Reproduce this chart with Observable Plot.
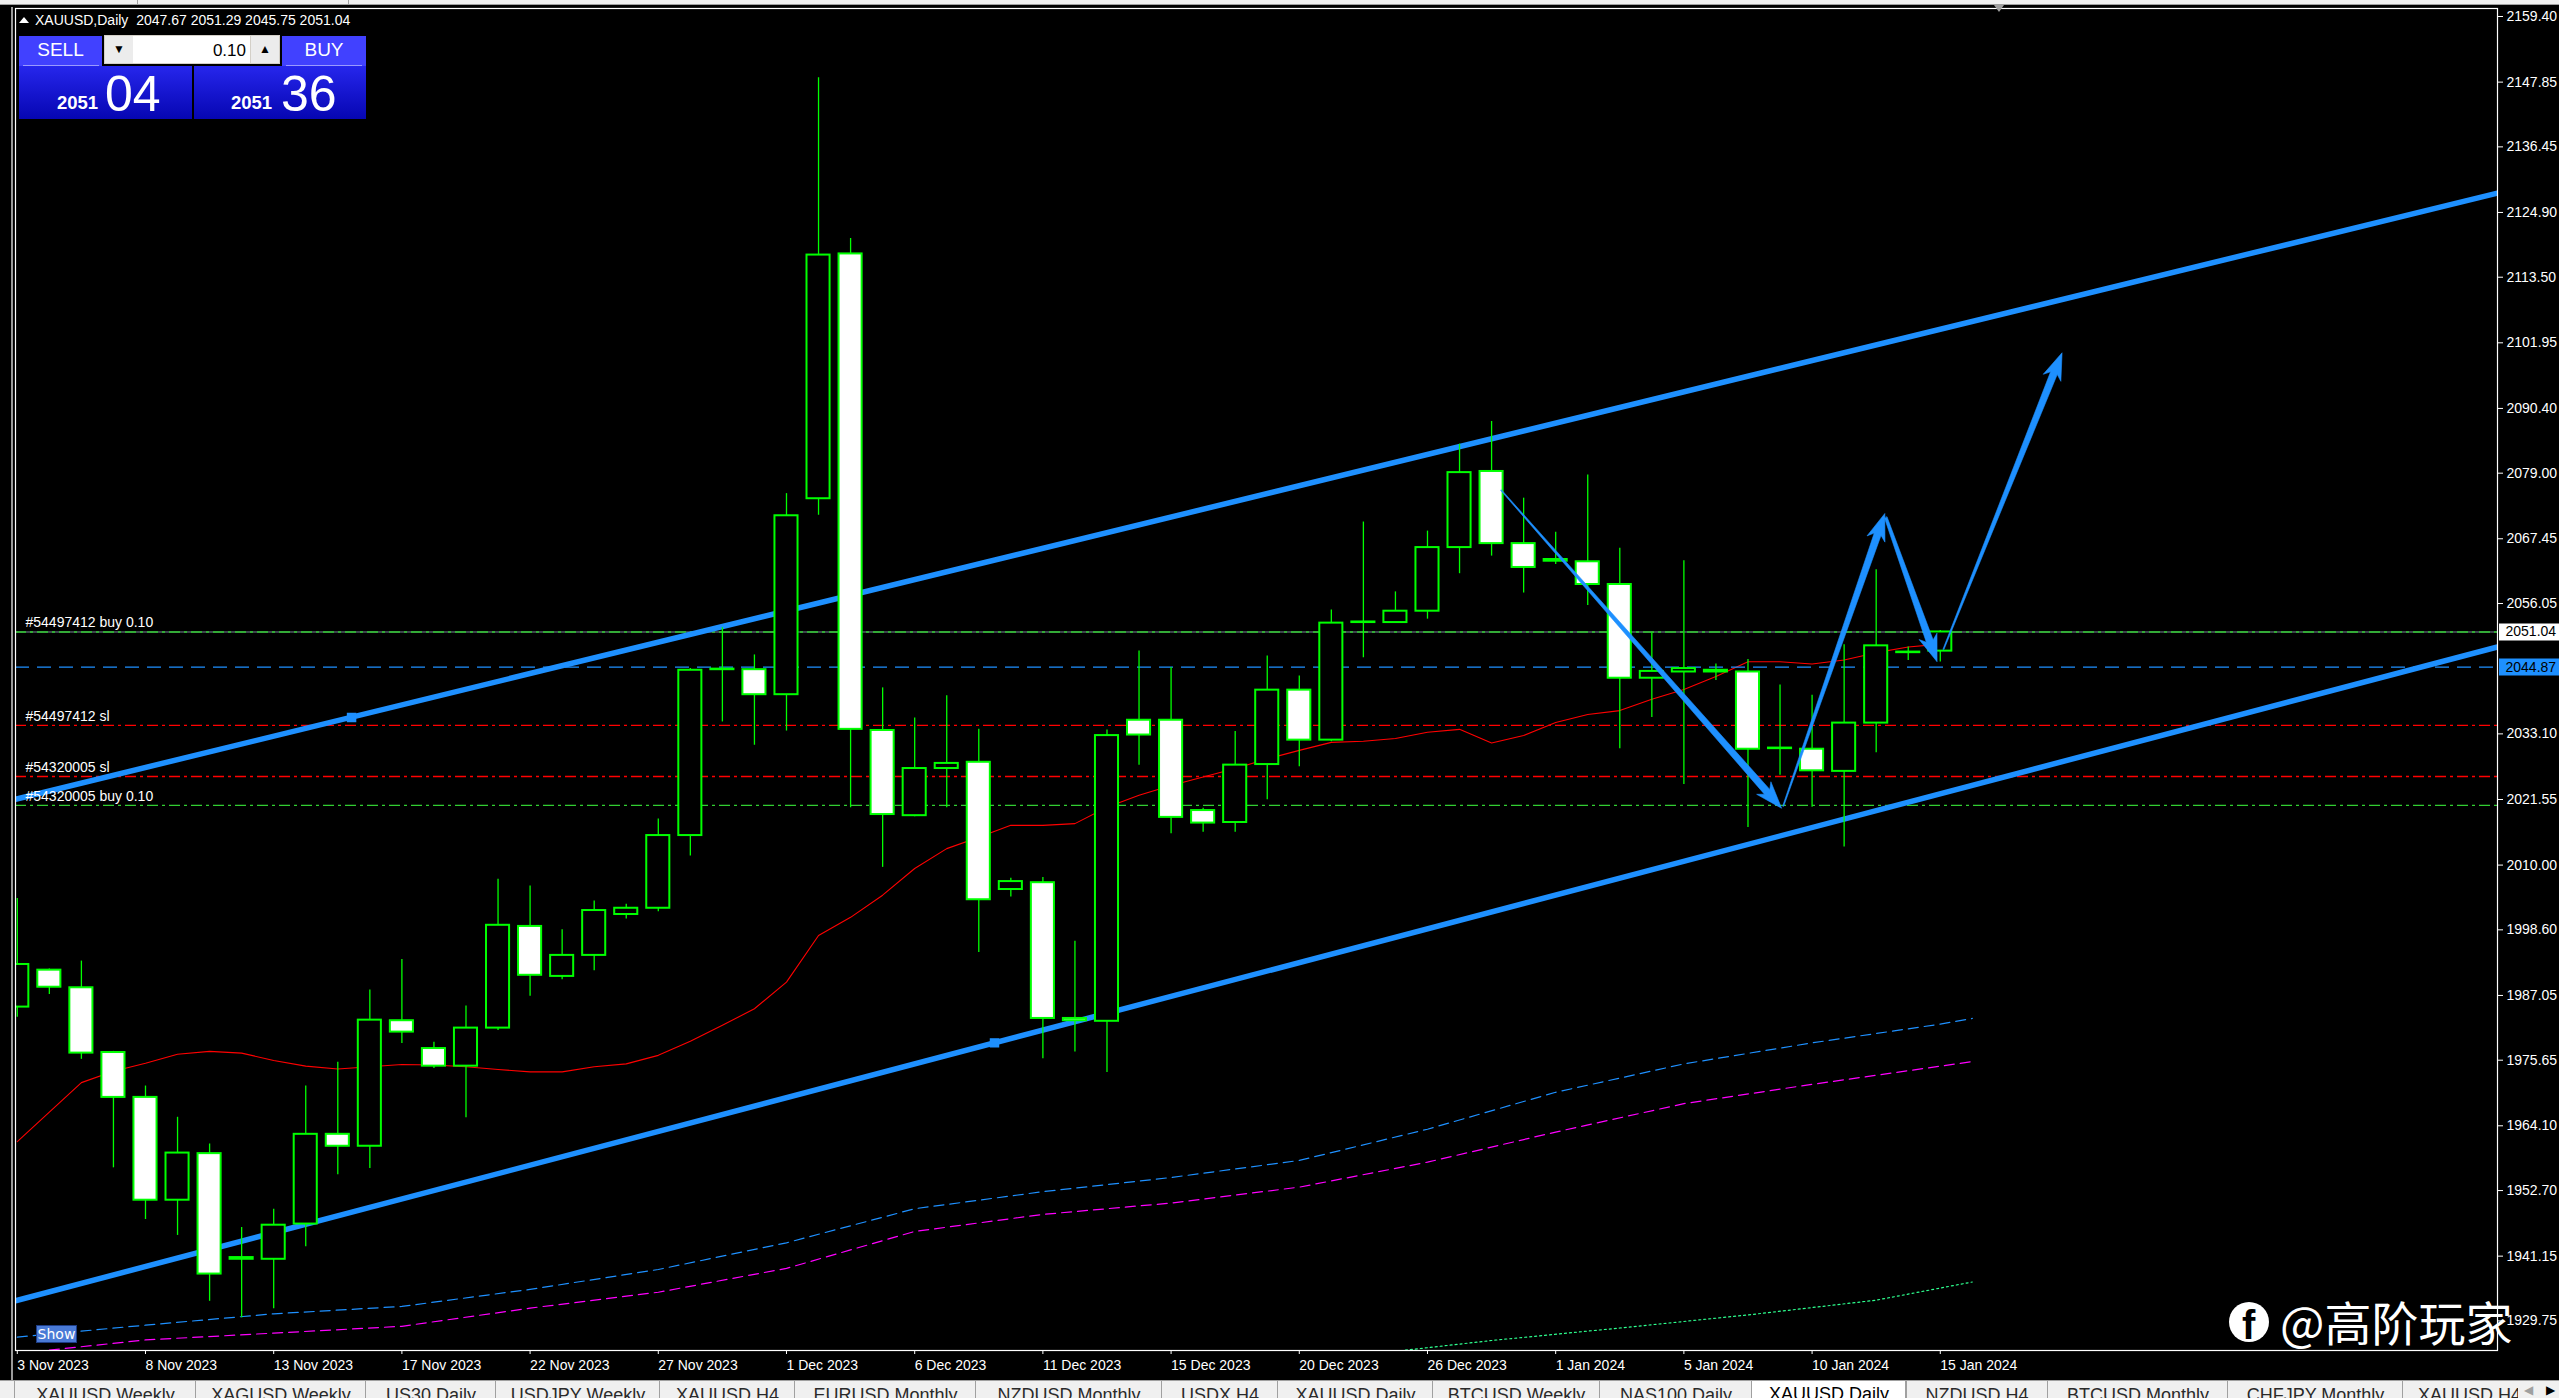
<!DOCTYPE html>
<html>
<head>
<meta charset="utf-8">
<script src="https://cdn.jsdelivr.net/npm/d3@7"></script>
<script src="https://cdn.jsdelivr.net/npm/@observablehq/plot@0.6"></script>
<style>
html,body{margin:0;padding:0;background:#000;width:2559px;height:1398px;overflow:hidden;font-family:"Liberation Sans",Arial,sans-serif;}
#chart{position:absolute;left:0;top:0;}
#chart svg{display:block;}
.abs{position:absolute;}
#topstrip{position:absolute;left:0;top:0;width:2559px;height:4px;background:#f0f0f0;border-bottom:1px solid #a0a0a0;}
#title{position:absolute;left:19px;top:12px;color:#fff;font-size:14px;line-height:16px;white-space:pre;}
#title .tri{display:inline-block;width:0;height:0;border-left:5.5px solid transparent;border-right:5.5px solid transparent;border-bottom:6px solid #fff;margin-right:6px;vertical-align:2px;}
.btop{position:absolute;top:36px;height:30px;background:#4141ff;color:#fff;font-size:19px;text-align:center;}
.btop span{position:absolute;left:0;right:0;top:4px;line-height:19px;}
.sep{position:absolute;top:65px;height:1px;background:#9a9aff;}
.bbot{position:absolute;top:66px;height:53px;background:linear-gradient(#2626ec,#0606b2);color:#fff;}
.bbot .small{position:absolute;top:28px;font-size:18.5px;line-height:18.5px;font-weight:bold;}
.bbot .big{position:absolute;top:3px;font-size:50px;line-height:50px;}
#lot{position:absolute;left:104px;top:35px;width:176px;height:29px;background:#d4d0c8;}
#lot .btn{position:absolute;top:1px;width:28px;height:27px;background:#ececec;color:#000;font-size:12px;text-align:center;line-height:27px;}
#lot .inp{position:absolute;left:29px;top:1px;width:117px;height:27px;background:#fff;color:#000;font-size:17px;text-align:right;line-height:17px;}
#lot .inp span{position:absolute;right:4px;top:6px;}
#show{position:absolute;left:36px;top:1325px;width:39px;height:16px;background:#4a7ad6;border:1px solid #1d3d86;color:#fff;font-family:"DejaVu Sans",sans-serif;font-size:14px;line-height:16px;text-align:center;}
#tabs{position:absolute;left:0;top:1380px;width:2559px;height:18px;background:#f0f0f0;border-top:1px solid #a0a0a0;overflow:hidden;}
.tab{position:absolute;top:0;height:30px;border-left:1px solid #a0a0a0;color:#2a2a2a;font-size:18px;line-height:20px;text-align:center;overflow:hidden;}
.tab span{position:absolute;left:0;right:0;top:4px;white-space:nowrap;}
.tab.last{text-align:left;}
.tab.last span{left:15px;right:auto;}
.tab.active{background:#fff;color:#000;border-right:1px solid #a0a0a0;top:-1px;}
#fb{position:absolute;left:2229px;top:1302px;width:40px;height:40px;border-radius:50%;background:#fff;overflow:hidden;}
#fb span{position:absolute;left:13px;top:3px;font-size:40px;line-height:40px;font-weight:bold;color:#000;font-family:"Liberation Sans",Arial,sans-serif;}
#wm{position:absolute;left:2280px;top:1293px;font-family:"Noto Sans CJK SC",sans-serif;font-size:47px;line-height:56px;color:#fff;white-space:nowrap;}
#shift{position:absolute;left:1994px;top:5px;width:0;height:0;border-left:5px solid transparent;border-right:5px solid transparent;border-top:7px solid #a0a0a0;}
</style>
</head>
<body>
<div id="chart"></div>
<div id="topstrip"><div class="abs" style="left:137px;top:0;width:1px;height:4px;background:#a0a0a0"></div><div class="abs" style="left:348px;top:0;width:1px;height:4px;background:#a0a0a0"></div></div>
<div class="abs" style="left:11px;top:7px;width:2px;height:1373px;background:#9a9a9a"></div>
<div id="shift"></div>
<div id="title"><span class="tri"></span>XAUUSD,Daily  2047.67 2051.29 2045.75 2051.04</div>

<div class="btop" style="left:19px;width:83px"><span>SELL</span></div>
<div class="bbot" style="left:19px;width:173px"><span class="small" style="left:38px">2051</span><span class="big" style="left:86px">04</span></div>
<div class="sep" style="left:23px;width:76px"></div>
<div id="lot"><div class="btn" style="left:1px">&#9660;</div><div class="inp"><span>0.10</span></div><div class="btn" style="left:147px">&#9650;</div></div>
<div class="btop" style="left:282px;width:84px"><span>BUY</span></div>
<div class="bbot" style="left:194px;width:172px"><span class="small" style="left:37px">2051</span><span class="big" style="left:87px">36</span></div>
<div class="sep" style="left:286px;width:76px"></div>

<div id="show">Show</div>
<div id="fb"><span>f</span></div>
<div id="wm">@高阶玩家</div>
<div id="tabs"></div>

<script>
// ---------------- DATA ----------------
const barDates = ["2023-11-03","2023-11-05","2023-11-06","2023-11-07","2023-11-08","2023-11-09","2023-11-10","2023-11-12","2023-11-13","2023-11-14","2023-11-15","2023-11-16","2023-11-17","2023-11-19","2023-11-20","2023-11-21","2023-11-22","2023-11-23","2023-11-24","2023-11-26","2023-11-27","2023-11-28","2023-11-29","2023-11-30","2023-12-01","2023-12-03","2023-12-04","2023-12-05","2023-12-06","2023-12-07","2023-12-08","2023-12-10","2023-12-11","2023-12-12","2023-12-13","2023-12-14","2023-12-15","2023-12-17","2023-12-18","2023-12-19","2023-12-20","2023-12-21","2023-12-22","2023-12-24","2023-12-26","2023-12-27","2023-12-28","2023-12-29","2024-01-01","2024-01-02","2024-01-03","2024-01-04","2024-01-05","2024-01-07","2024-01-08","2024-01-09","2024-01-10","2024-01-11","2024-01-12","2024-01-14","2024-01-15"];
const open  = [1985.0,1991.5,1988.4,1977.0,1969.1,1951.0,1959.2,1940.9,1940.6,1946.8,1962.6,1960.5,1982.6,1977.7,1974.6,1981.3,1999.2,1990.4,1994.1,2001.3,2002.4,2015.2,2044.4,2044.4,2040.0,2074.5,2117.6,2033.7,2018.7,2027.0,2028.1,2005.7,2006.9,1983.0,1982.5,2035.5,2035.5,2019.6,2017.5,2027.7,2040.8,2032.0,2052.7,2052.7,2054.7,2065.9,2079.3,2066.6,2063.8,2063.4,2059.4,2042.9,2044.0,2044.3,2044.0,2030.5,2030.4,2026.5,2035.0,2047.4,2047.67];
const high  = [2004.1,1991.7,1993.1,1977.2,1971.1,1965.6,1960.9,1946.2,1949.4,1971.1,1975.3,1988.0,1993.4,1978.8,1985.2,2007.5,2006.3,1998.6,2003.7,2003.1,2018.1,2044.6,2051.8,2047.0,2075.4,2148.6,2120.3,2041.2,2035.9,2039.8,2033.9,2007.7,2007.8,1996.6,2033.8,2047.7,2044.8,2020.0,2033.5,2046.8,2043.3,2054.9,2070.4,2058.1,2068.8,2084.1,2088.1,2074.6,2068.6,2078.7,2065.8,2050.9,2063.6,2045.4,2046.2,2041.7,2039.9,2048.8,2062.0,2048.4,2051.29];
const low   = [1983.2,1987.2,1975.8,1956.7,1947.6,1944.8,1933.2,1930.3,1931.9,1942.8,1955.5,1956.6,1978.6,1974.2,1965.5,1980.9,1986.9,1989.8,1991.4,2000.5,2001.8,2011.6,2035.2,2031.1,2033.6,2071.6,2020.1,2009.6,2018.5,2020.1,1994.6,2004.4,1975.9,1977.1,1973.5,2027.6,2015.5,2015.8,2015.8,2021.5,2027.3,2031.7,2046.5,2052.7,2053.3,2061.3,2064.4,2057.9,2062.9,2055.7,2030.5,2036.0,2024.2,2042.5,2016.6,2025.8,2020.2,2013.2,2029.8,2046.0,2045.75];
const close = [1992.5,1988.5,1976.9,1969.1,1951.0,1959.3,1938.0,1940.6,1946.6,1962.6,1960.5,1982.7,1980.6,1974.6,1981.3,1999.4,1990.6,1994.1,2002.0,2002.4,2015.2,2044.3,2044.5,2040.0,2071.5,2117.4,2033.9,2018.9,2027.0,2027.9,2003.9,2007.1,1983.0,1982.6,2032.8,2032.9,2018.4,2017.4,2027.6,2040.8,2032.0,2052.6,2052.8,2054.7,2065.9,2079.1,2066.6,2062.4,2063.5,2059.4,2042.9,2044.1,2044.6,2044.0,2030.4,2030.6,2026.6,2035.0,2048.6,2047.5,2051.04];

// moving averages (values read per bar / at sampled bars)
const maRed = [1961.3,1966.5,1971.7,1973.7,1975.1,1976.7,1977.2,1976.9,1975.6,1974.6,1974.1,1974.5,1974.9,1974.8,1974.5,1974.0,1973.6,1973.6,1974.5,1975.0,1976.5,1979.0,1981.8,1984.7,1989.4,1997.6,2000.8,2004.7,2009.4,2012.9,2014.9,2017.0,2017.0,2017.3,2020.2,2022.3,2024.0,2025.5,2027.0,2028.7,2030.2,2031.6,2031.8,2032.3,2033.4,2033.9,2031.5,2032.8,2035.1,2036.5,2037.2,2039.2,2040.9,2043.2,2045.8,2045.8,2045.4,2046.1,2047.4,2048.4,2048.9];
const maBlueIdx = [0,4,8,12,16,20,24,28,32,36,40,44,48,52,56,60,61];
const maBlueVal = [1926.9,1929.0,1931.0,1932.3,1935.3,1938.8,1943.5,1949.5,1952.5,1955.0,1958.0,1963.5,1970.0,1975.0,1978.7,1982.0,1983.0];
const maMagIdx  = [1,4,8,12,16,20,24,28,32,36,40,44,48,52,56,60,61];
const maMagVal  = [1924.6,1926.4,1927.6,1928.8,1932.0,1934.8,1939.0,1945.5,1948.5,1950.5,1953.3,1957.7,1963.0,1968.0,1971.4,1974.6,1975.4];
const maGreenIdx = [43,46,50,54,58,61];
const maGreenVal = [1924.4,1926.3,1928.5,1930.8,1933.4,1936.6];

// price axis tick labels
const yTicks = [1929.75,1941.15,1952.70,1964.10,1975.65,1987.05,1998.60,2010.00,2021.55,2033.10,2056.05,2067.45,2079.00,2090.40,2101.95,2113.50,2124.90,2136.45,2147.85,2159.40];

// trade / object levels
const bidPrice = 2051.04;
const hLinePrice = 2044.87;
const orderPrices = [2051.04, 2034.60, 2025.60, 2020.50];
const orderLabels = ["#54497412 buy 0.10", "#54497412 sl", "#54320005 sl", "#54320005 buy 0.10"];
const orderTypes  = ["buy", "sl", "sl", "buy"];

// channel trend lines (bar index, price) at their two ends
const channelNames = ["upper", "lower"];
const channelIdx0 = [-0.056, -0.056], channelP0 = [2021.6, 1933.3];
const channelIdx1 = [77.386, 77.386], channelP1 = [2128.3, 2048.4];
const channelMarkIdx = [10.43, 30.49], channelMarkP = [2036.0, 1978.7];

// drawn arrows: from (bar index, price) to (bar index, price)
const arrowFromIdx = [46.3, 55.1, 58.3, 60.1], arrowFromP = [2076.0, 2020.4, 2071.2, 2048.0];
const arrowToIdx   = [55.05, 58.27, 59.9, 63.8], arrowToP   = [2020.0, 2071.9, 2045.8, 2100.2];
const arrowStartW  = [0.5, 0.5, 1.4, 0.5];

// terminal tabs
const tabNames = ["XAUUSD Weekly","XAGUSD Weekly","US30 Daily","USDJPY Weekly","XAUUSD H4","EURUSD Monthly","NZDUSD Monthly","USDX H4","XAUUSD Daily","BTCUSD Weekly","NAS100 Daily","XAUUSD Daily","NZDUSD H4","BTCUSD Monthly","CHFJPY Monthly","XAUUSD H4"];
const activeTab = 11;

// ---------------- LAYOUT ----------------
const W = 2559, H = 1380, mL = 15, mR = 62, mT = 8, mB = 30;
const xDomain = [-0.056, 77.386];
const yDomain = [1924.54, 2160.81];
const xs = Plot.scale({x: {domain: xDomain, range: [mL, W - mR]}});
const ys = Plot.scale({y: {domain: yDomain, range: [H - mB, mT]}});

const parse = d3.utcParse("%Y-%m-%d");
const fmt = d3.utcFormat("%-d %b %Y");
const bars = barDates.map((d, i) => ({i, date: parse(d), o: open[i], h: high[i], l: low[i], c: close[i]}));
const tickIdx = bars.filter(b => b.i % 4 === 0).map(b => b.i);

const redData = maRed.map((v, i) => ({i, v}));
const blueData = maBlueIdx.map((i, k) => ({i, v: maBlueVal[k]}));
const magData = maMagIdx.map((i, k) => ({i, v: maMagVal[k]}));
const greenData = maGreenIdx.map((i, k) => ({i, v: maGreenVal[k]}));
const orders = orderPrices.map((p, k) => ({p, label: orderLabels[k], type: orderTypes[k]}));
const channel = channelNames.flatMap((k, j) => [{k, i: channelIdx0[j], p: channelP0[j]}, {k, i: channelIdx1[j], p: channelP1[j]}]);
const channelMarks = channelMarkIdx.map((i, k) => ({i, p: channelMarkP[k]}));

// tapered arrow outline, built in pixel space from the arrow's data ends and mapped back through the scales
function arrowOutline(k) {
  const sx = xs.apply(arrowFromIdx[k]), sy = ys.apply(arrowFromP[k]);
  const tx = xs.apply(arrowToIdx[k]), ty = ys.apply(arrowToP[k]);
  const dx = tx - sx, dy = ty - sy, L = Math.hypot(dx, dy);
  const ux = dx / L, uy = dy / L, nx = -uy, ny = ux;
  const HL = 22, HW = 9.5, w0 = arrowStartW[k], w1 = 3.6;
  const bx = tx - ux * HL, by = ty - uy * HL;
  const cx = tx - ux * (HL + 5), cy = ty - uy * (HL + 5);
  const pts = [
    [sx + nx * w0, sy + ny * w0],
    [bx + nx * w1, by + ny * w1],
    [cx + nx * HW, cy + ny * HW],
    [tx, ty],
    [cx - nx * HW, cy - ny * HW],
    [bx - nx * w1, by - ny * w1],
    [sx - nx * w0, sy - ny * w0]
  ];
  return pts.map(([px, py]) => ({k, x: xs.invert(px), y: ys.invert(py)}));
}
const arrowPts = arrowFromIdx.flatMap((_, k) => arrowOutline(k));

const bodyLo = d => Math.min(d.o, d.c), bodyHi = d => Math.max(d.o, d.c);
const hw = 0.36;
const hasAxisMarks = typeof Plot.axisX === "function";

const marks = [
  Plot.line(greenData, {x: "i", y: "v", stroke: "#2dff8e", strokeWidth: 1.2, strokeDasharray: "2,3", clip: true}),
  Plot.line(magData, {x: "i", y: "v", stroke: "#ff00ff", strokeWidth: 1.2, strokeDasharray: "10,6", clip: true}),
  Plot.line(blueData, {x: "i", y: "v", stroke: "#1e90ff", strokeWidth: 1.2, strokeDasharray: "10,6", clip: true}),
  Plot.line(redData, {x: "i", y: "v", stroke: "#ff0000", strokeWidth: 1.1, clip: true}),
  Plot.ruleY([bidPrice], {stroke: "#778899", strokeWidth: 1}),
  Plot.ruleY(orders.filter(d => d.type === "sl"), {y: "p", stroke: "#ff0000", strokeWidth: 1.3, strokeDasharray: "11,4,3,4"}),
  Plot.ruleY(orders.filter(d => d.type === "buy"), {y: "p", stroke: "#32cd32", strokeWidth: 1.3, strokeDasharray: "11,4,3,4"}),
  Plot.ruleY([hLinePrice], {stroke: "#1e90ff", strokeWidth: 1.2, strokeDasharray: "14,8"}),
  Plot.line(channel, {x: "i", y: "p", z: "k", stroke: "#1e90ff", strokeWidth: 5.5, strokeLinecap: "butt", clip: true}),
  Plot.dot(channelMarks, {x: "i", y: "p", symbol: "square", r: 4.5, fill: "#1e90ff", stroke: "#1e90ff"}),
  Plot.ruleX(bars, {x: "i", y1: "l", y2: "h", stroke: "#00ff00", strokeWidth: 1.3, clip: true}),
  Plot.rect(bars, {filter: d => d.c > d.o, x1: d => d.i - hw, x2: d => d.i + hw, y1: bodyLo, y2: bodyHi, fill: "#000", stroke: "#00ff00", strokeWidth: 2, clip: true}),
  Plot.rect(bars, {filter: d => d.c <= d.o, x1: d => d.i - hw, x2: d => d.i + hw, y1: bodyLo, y2: bodyHi, fill: "#fff", stroke: "#00ff00", strokeWidth: 2, clip: true}),
  Plot.line(arrowPts, {x: "x", y: "y", z: "k", fill: "#1e90ff", stroke: "#1e90ff", strokeWidth: 0.6, curve: "linear-closed", clip: true}),
  Plot.text(orders, {y: "p", text: "label", frameAnchor: "left", dx: 10, dy: -9, textAnchor: "start", fill: "white", fontSize: 14}),
  Plot.frame({stroke: "white", strokeWidth: 1.2})
];
if (hasAxisMarks) {
  marks.push(
    Plot.axisX({ticks: tickIdx, tickFormat: i => fmt(bars[i].date), anchor: "bottom", tickSize: 4, tickPadding: 6, textAnchor: "start", label: null, fontSize: 14}),
    Plot.axisY({ticks: yTicks, tickFormat: d => d.toFixed(2), anchor: "right", tickSize: 5, tickPadding: 4, textAnchor: "start", label: null, fontSize: 14})
  );
}
marks.push(
  Plot.ruleY([bidPrice], {stroke: "white", strokeWidth: 17, insetLeft: W - mR - mL + 2, insetRight: -mR}),
  Plot.text([bidPrice], {y: d => d, text: d => d.toFixed(2), frameAnchor: "right", dx: 8, textAnchor: "start", fill: "black", fontSize: 14}),
  Plot.ruleY([hLinePrice], {stroke: "#1e90ff", strokeWidth: 17, insetLeft: W - mR - mL + 2, insetRight: -mR}),
  Plot.text([hLinePrice], {y: d => d, text: d => d.toFixed(2), frameAnchor: "right", dx: 8, textAnchor: "start", fill: "black", fontSize: 14})
);

const xOpts = {domain: xDomain};
const yOpts = {domain: yDomain};
if (!hasAxisMarks) {
  Object.assign(xOpts, {ticks: tickIdx, tickFormat: i => fmt(bars[i].date), tickSize: 4, tickPadding: 6, label: null});
  Object.assign(yOpts, {axis: "right", ticks: yTicks, tickFormat: d => d.toFixed(2), tickSize: 5, tickPadding: 4, label: null});
} else {
  xOpts.axis = null; yOpts.axis = null;
}

const chart = Plot.plot({
  width: W, height: H,
  marginLeft: mL, marginRight: mR, marginTop: mT, marginBottom: mB,
  x: xOpts, y: yOpts,
  style: {background: "#000", color: "white", fontFamily: "'Liberation Sans', Arial, sans-serif", fontSize: "14px", overflow: "visible"},
  marks
});
document.getElementById("chart").appendChild(chart);

// tab bar
const tabLefts = [14,195,365,495,659,794,975,1161,1277,1432,1599,1751,1905,2047,2227,2402];
const tabsEl = document.getElementById("tabs");
tabNames.forEach((name, k) => {
  const left = tabLefts[k];
  const last = k + 1 >= tabLefts.length;
  const right = last ? 2518 : tabLefts[k + 1];
  const el = document.createElement("div");
  el.className = "tab" + (k === activeTab ? " active" : "") + (last ? " last" : "");
  el.style.left = left + "px";
  el.style.width = (right - left) + "px";
  const sp = document.createElement("span");
  sp.textContent = name;
  el.appendChild(sp);
  tabsEl.appendChild(el);
});
const scroll = document.createElement("div");
scroll.style.cssText = "position:absolute;left:2518px;top:0;width:41px;height:18px;background:#f0f0f0;font-size:12px;line-height:18px;";
scroll.innerHTML = '<span style="position:absolute;left:6px;color:#a0a0a0">&#9664;</span><span style="position:absolute;left:28px;color:#000">&#9654;</span>';
tabsEl.appendChild(scroll);
</script>
</body>
</html>
